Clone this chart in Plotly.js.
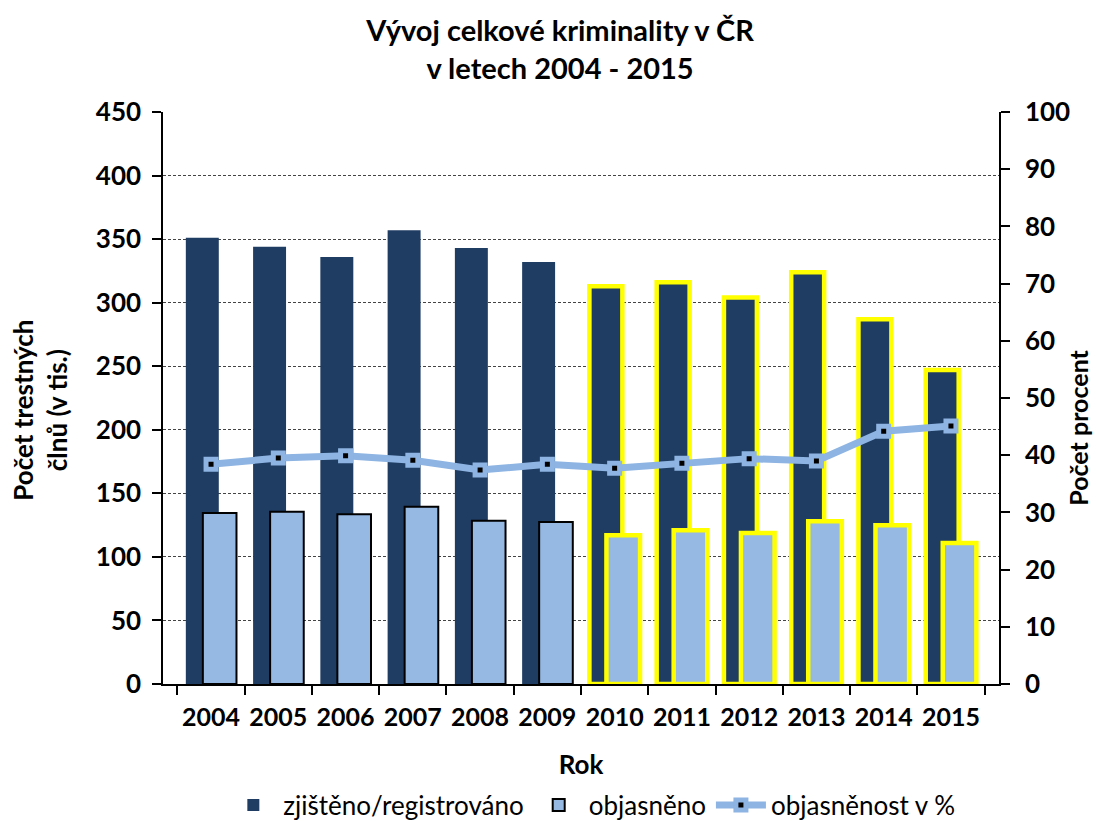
<!DOCTYPE html>
<html>
<head>
<meta charset="utf-8">
<script src="https://cdn.plot.ly/plotly-3.0.1.min.js"></script>
<style>html,body{margin:0;padding:0;background:#fff;}#chart{width:1096px;height:821px;}</style>
</head>
<body>
<div id="chart"></div>
<script>
const years = ['2004','2005','2006','2007','2008','2009','2010','2011','2012','2013','2014','2015'];
const registered = [351, 344, 336, 357, 343, 332, 313, 316, 304, 324, 287, 247];
const solved = [134.6, 135.6, 133.5, 139.5, 128.5, 127.5, 117, 121, 118.8, 128, 124.8, 111];
const solvedPct = [38.4, 39.5, 39.9, 39.1, 37.4, 38.4, 37.7, 38.6, 39.4, 39.0, 44.2, 45.1];
const highlighted = [false,false,false,false,false,false,true,true,true,true,true,true];

const FONT = 'Lato, "Open Sans", sans-serif';
const DARK = '#1F3D63';
const LIGHT = '#95B9E3';
const LINE = '#8DB4E2';
const YELLOW = '#FFFF00';

const traces = [
  {
    type: 'bar', name: 'zjištěno/registrováno', x: years, y: registered,
    offset: -0.375, width: 0.49,
    marker: {
      color: DARK,
      line: {
        color: highlighted.map(h => h ? YELLOW : DARK),
        width: highlighted.map(h => h ? 4.5 : 0)
      }
    },
    yaxis: 'y'
  },
  {
    type: 'bar', name: 'objasněno', x: years, y: solved,
    offset: -0.122, width: 0.5,
    marker: {
      color: LIGHT,
      line: {
        color: highlighted.map(h => h ? YELLOW : '#000000'),
        width: highlighted.map(h => h ? 4.5 : 2)
      }
    },
    yaxis: 'y'
  },
  {
    type: 'scatter', mode: 'lines+markers', name: 'objasněnost v %', x: years, y: solvedPct,
    line: {color: LINE, width: 7},
    marker: {symbol: 'square', size: 10, color: '#000000', line: {color: LINE, width: 5}},
    yaxis: 'y2'
  }
];

const layout = {
  width: 1096, height: 821,
  paper_bgcolor: '#ffffff', plot_bgcolor: '#ffffff',
  font: {family: FONT, color: '#000000'},
  margin: {l: 163, r: 97, t: 112, b: 136.5, autoexpand: false},
  barmode: 'overlay',
  showlegend: true,
  title: {
    text: 'Vývoj celkové kriminality v ČR<br>v letech 2004 - 2015',
    font: {family: FONT, size: 29, weight: 'bold', color: '#000'},
    xref: 'container', x: 0.511, xanchor: 'center',
    yref: 'container', y: 0.95, yanchor: 'middle'
  },
  xaxis: {
    type: 'category', automargin: false, tickangle: 0,
    showline: true, linecolor: '#000', linewidth: 1.5,
    ticks: 'outside', ticklen: 9, tickcolor: '#000', tickwidth: 1.5,
    tickson: 'boundaries', ticklabelstandoff: 10,
    showgrid: false,
    tickfont: {family: FONT, size: 25, weight: 'bold', color: '#000'},
    title: {text: 'Rok', font: {family: FONT, size: 26, weight: 'bold', color: '#000'}, standoff: 26}
  },
  yaxis: {
    range: [0, 450], dtick: 50, automargin: false,
    showline: true, linecolor: '#000', linewidth: 1.5,
    ticks: 'outside', ticklen: 9, tickcolor: '#000', tickwidth: 1.5,
    ticklabelstandoff: 6,
    showgrid: true, gridcolor: '#444', gridwidth: 1, griddash: '3px,2px',
    zeroline: false,
    tickfont: {family: FONT, size: 26, weight: 'bold', color: '#000'}
  },
  yaxis2: {
    range: [0, 100], dtick: 10, overlaying: 'y', side: 'right', automargin: false,
    showline: true, linecolor: '#000', linewidth: 1.5,
    ticks: 'outside', ticklen: 9, tickcolor: '#000', tickwidth: 1.5,
    ticklabelstandoff: 10,
    showgrid: false, zeroline: false,
    tickfont: {family: FONT, size: 26, weight: 'bold', color: '#000'}
  },
  legend: {
    orientation: 'h', xref: 'container', x: 0.54, xanchor: 'center',
    yref: 'container', y: 0.0195, yanchor: 'middle',
    font: {family: FONT, size: 26, color: '#000'},
    itemwidth: 50,
    traceorder: 'normal'
  },
  annotations: [
    {
      text: 'Počet trestných<br>člnů (v tis.)', textangle: -90,
      xref: 'paper', yref: 'paper', x: (40 - 163) / 836, y: (684.5 - 411) / 572.5,
      xanchor: 'center', yanchor: 'middle', showarrow: false,
      font: {family: FONT, size: 26, weight: 'bold', color: '#000'}
    },
    {
      text: 'Počet procent', textangle: -90,
      xref: 'paper', yref: 'paper', x: (1078 - 163) / 836, y: (684.5 - 428) / 572.5,
      xanchor: 'center', yanchor: 'middle', showarrow: false,
      font: {family: FONT, size: 25, weight: 'bold', color: '#000'}
    }
  ]
};

Plotly.newPlot('chart', traces, layout, {displayModeBar: false, responsive: false});
</script>
</body>
</html>
